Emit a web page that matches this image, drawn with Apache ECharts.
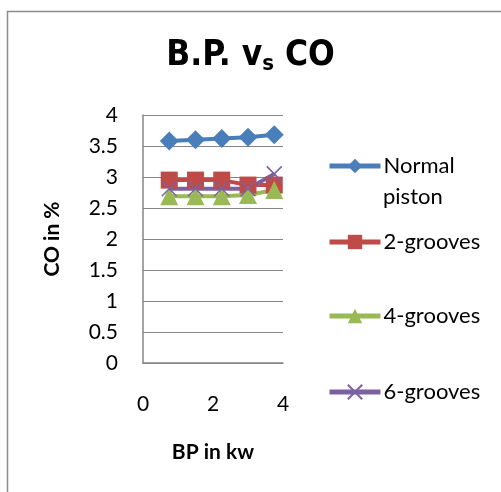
<!DOCTYPE html>
<html>
<head>
<meta charset="utf-8">
<script src="https://cdn.jsdelivr.net/npm/echarts@6/dist/echarts.min.js"></script>
<style>
  html, body { margin: 0; padding: 0; background: #fff; }
  #main { width: 501px; height: 492px; }
</style>
</head>
<body>
<div id="main"></div>
<script>
// BP (kw) on x, CO (%) on y
var bp = [0.75, 1.5, 2.25, 3.0, 3.75];
var normalPiston = [3.58, 3.6, 3.62, 3.64, 3.68];
var grooves2 = [2.95, 2.95, 2.95, 2.87, 2.87];
var grooves4 = [2.69, 2.69, 2.69, 2.71, 2.79];
var grooves6 = [2.81, 2.81, 2.81, 2.81, 3.05];
var yTicks = [0, 0.5, 1, 1.5, 2, 2.5, 3, 3.5, 4];
var xTicks = [0, 2, 4];

function pairs(ys) {
  return bp.map(function (x, i) { return [x, ys[i]]; });
}

var crossPath = 'path://M0,0L10,10M10,0L0,10';
var txtFont = 'Lato';

var chart = echarts.init(document.getElementById('main'), null, { renderer: 'canvas' });

function legendItem(name, top, extra) {
  var l = {
    data: [name],
    left: 327,
    top: top,
    padding: 0,
    itemGap: 0,
    itemWidth: 51,
    itemHeight: 18,
    selectedMode: false,
    lineStyle: { width: 5 },
    textStyle: { fontFamily: txtFont, fontSize: 22, color: '#000', padding: [0, 0, 0, -2] }
  };
  for (var k in extra) l[k] = extra[k];
  return l;
}

var option = {
  animation: false,
  backgroundColor: '#fff',
  title: {
    text: 'B.P. v{s|s} CO',
    left: 'center',
    top: 32,
    textStyle: {
      fontFamily: 'DejaVu Sans Condensed',
      fontWeight: 'bold',
      fontSize: 35,
      color: '#000',
      rich: {
        s: { fontFamily: 'DejaVu Sans Condensed', fontWeight: 'bold', fontSize: 22, color: '#000', padding: [16, 0, 0, 0] }
      }
    }
  },
  graphic: [{
    type: 'rect',
    shape: { x: 7.5, y: 11.5, width: 600, height: 600 },
    style: { fill: 'none', stroke: '#8c8c8c', lineWidth: 1.5 },
    silent: true
  }, {
    type: 'text',
    left: 383,
    top: 186,
    style: { text: 'piston', font: '22px Lato', fill: '#000' },
    silent: true
  }],
  legend: [
    legendItem('Normal piston', 155, {
      formatter: function () { return 'Normal'; }
    }),
    legendItem('2-grooves', 231),
    legendItem('4-grooves', 305),
    legendItem('6-grooves', 381)
  ],
  grid: { left: 143, right: 218, top: 115, bottom: 129 },
  xAxis: {
    type: 'value',
    min: xTicks[0],
    max: xTicks[xTicks.length - 1],
    interval: 2,
    name: 'BP in kw',
    nameLocation: 'middle',
    nameGap: 79,
    nameTextStyle: { fontFamily: txtFont, fontWeight: 'bold', fontSize: 21, color: '#000' },
    axisLine: { show: true, lineStyle: { color: '#868686', width: 1.5 } },
    axisTick: { show: false },
    axisLabel: { fontFamily: txtFont, fontSize: 21, color: '#000', margin: 31 },
    splitLine: { show: false }
  },
  yAxis: {
    type: 'value',
    min: yTicks[0],
    max: yTicks[yTicks.length - 1],
    interval: 0.5,
    name: 'CO in %',
    nameLocation: 'middle',
    nameGap: 80,
    nameTextStyle: { fontFamily: txtFont, fontWeight: 'bold', fontSize: 21, color: '#000' },
    axisLine: { show: true, lineStyle: { color: '#868686', width: 1.5 } },
    axisTick: { show: false },
    axisLabel: { fontFamily: txtFont, fontSize: 21, color: '#000', margin: 25 },
    splitLine: { show: true, lineStyle: { color: '#868686', width: 1 } }
  },
  series: [
    {
      name: 'Normal piston', type: 'line', data: pairs(normalPiston),
      symbol: 'diamond', symbolSize: 19,
      lineStyle: { color: '#4a7ebb', width: 4 },
      itemStyle: { color: '#4a7ebb' }
    },
    {
      name: '2-grooves', type: 'line', data: pairs(grooves2),
      symbol: 'rect', symbolSize: 17,
      lineStyle: { color: '#be4b48', width: 4 },
      itemStyle: { color: '#be4b48' }
    },
    {
      name: '4-grooves', type: 'line', data: pairs(grooves4),
      symbol: 'triangle', symbolSize: 18,
      lineStyle: { color: '#98b954', width: 4 },
      itemStyle: { color: '#98b954' }
    },
    {
      name: '6-grooves', type: 'line', data: pairs(grooves6),
      symbol: crossPath, symbolSize: 15,
      lineStyle: { color: '#7d60a0', width: 4 },
      itemStyle: { color: '#7d60a0', borderColor: '#7d60a0', borderWidth: 1.5 }
    }
  ]
};

chart.setOption(option);
</script>
</body>
</html>
